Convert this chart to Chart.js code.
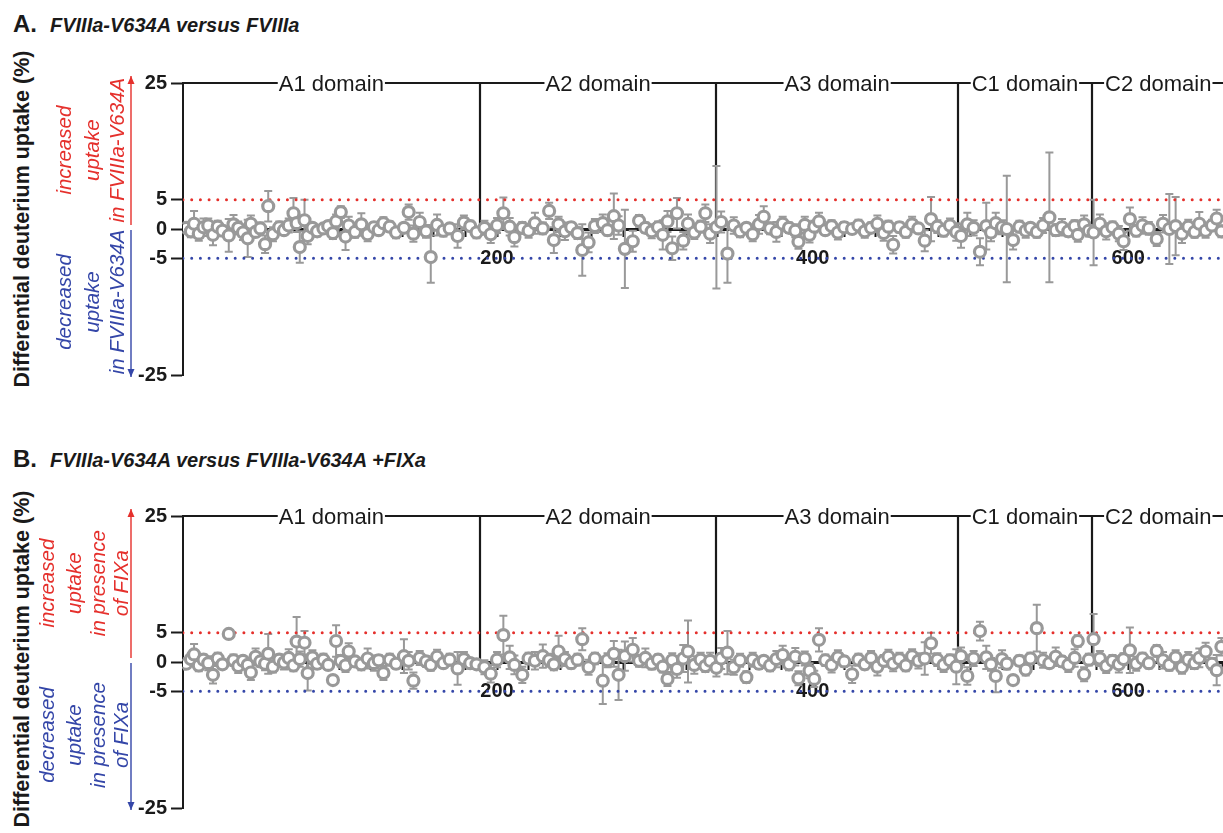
<!DOCTYPE html>
<html>
<head>
<meta charset="utf-8">
<script src="https://cdn.jsdelivr.net/npm/chart.js@4.4.1/dist/chart.umd.min.js"></script>
<style>
  body { margin: 0; background: #fff; width: 1223px; height: 833px; overflow: hidden; position: relative;
         font-family: "Liberation Sans", Arial, sans-serif; color: #1a1a1a; }
  .ttl { position: absolute; left: 13px; line-height: 28px; white-space: nowrap; font-weight: bold; }
  .ttl b { font-size: 24px; }
  .ttl i { font-size: 20px; margin-left: 13px; }
  .ytitle { position: absolute; left: 22px; font-weight: bold; font-size: 21.5px; white-space: nowrap;
            transform: translate(-50%, -50%) rotate(-90deg); }
  .panel { position: absolute; left: 0; }
</style>
</head>
<body>
<div class="ttl" style="top:10px"><b>A.</b><i>FVIIIa-V634A versus FVIIIa</i></div>
<div class="ttl" style="top:445px"><b>B.</b><i>FVIIIa-V634A versus FVIIIa-V634A +FIXa</i></div>
<div class="ytitle" style="top:219px">Differential deuterium uptake (%)</div>
<div class="ytitle" style="top:659px">Differential deuterium uptake (%)</div>
<!-- the plot runs off the right edge of the figure, so the canvases are a bit wider than the page -->
<canvas id="chartA" class="panel" style="top:0px" width="1234" height="420"></canvas>
<canvas id="chartB" class="panel" style="top:433px" width="1234" height="400"></canvas>

<script>
// ==================== DATA ====================
// peptide midpoint (residue) shared by both experiments
const residue = [
  3, 6, 8, 11, 14, 17, 20, 23, 26, 30, 33, 36, 39, 42, 44, 47, 50, 53, 55, 58,
  62, 65, 68, 71, 73, 75, 78, 80, 83, 86, 90, 93, 96, 98, 101, 104, 106, 110, 114, 118,
  122, 125, 128, 132, 136, 141, 144, 147, 151, 155, 158, 162, 166, 170, 175, 179, 183, 187, 192, 196,
  200, 204, 208, 211, 216, 220, 224, 229, 233, 236, 239, 243, 247, 251, 254, 258, 262, 267, 270, 274,
  277, 281, 286, 290, 294, 298, 302, 305, 308, 311, 314, 318, 321, 325, 329, 332, 335, 339, 342, 346,
  350, 354, 358, 362, 366, 369, 373, 377, 381, 385, 389, 391, 395, 398, 401, 404, 408, 412, 416, 420,
  425, 429, 433, 437, 441, 445, 448, 451, 455, 459, 463, 467, 471, 475, 479, 483, 487, 491, 494, 498,
  502, 506, 510, 513, 516, 520, 523, 527, 531, 535, 538, 542, 546, 550, 554, 558, 562, 566, 568, 572,
  575, 578, 582, 586, 590, 594, 597, 601, 605, 609, 613, 618, 622, 626, 630, 634, 638, 642, 645, 649,
  653, 656, 659
];

// A. FVIIIa-V634A versus FVIIIa
const uptakeA = [
  0.2, -0.4, 0.9, -0.8, 0.3, 0.6, -1.0, 0.4, -0.3, -1.1, 0.8, 0.2, -0.6, -1.6, 0.9, -0.5, 0.1, -2.6, 3.9, -0.9,
  0.3, -0.2, 0.6, 2.7, 1.0, -3.1, 1.5, -1.2, 0.2, -0.4, 0.1, 0.5, -0.7, 1.3, 2.9, -1.3, 0.6, -0.5, 0.8, -0.9,
  0.3, -0.2, 1.0, 0.4, -0.6, 0.2, 2.9, -0.8, 1.2, -0.4, -4.8, 0.7, -0.3, 0.1, -1.2, 1.1, 0.5, -0.6, 0.2, -0.9,
  0.6, 2.7, 0.4, -1.4, 0.2, -0.3, 1.0, 0.1, 3.1, -1.9, 0.8, -0.4, 0.3, -0.7, -3.6, -2.3, 0.5, 1.0, -0.2, 2.2,
  0.6, -3.4, -2.1, 1.4, 0.2, -0.4, 0.3, -1.0, 1.3, -3.3, 2.7, -2.0, 0.9, -0.6, 0.4, 2.7, -0.8, 0.3, 1.2, -4.2,
  0.6, -0.4, 0.2, -0.9, 0.8, 2.1, 0.1, -0.5, 0.9, 0.2, -0.3, -2.2, 0.7, -1.0, 0.4, 1.3, -0.2, 0.5, -0.6, 0.3,
  0.0, 0.6, -0.4, 0.2, 0.9, -0.7, 0.4, -2.7, 0.3, -0.5, 0.8, 0.1, -2.0, 1.7, 0.4, -0.3, 0.6, -0.5, -1.2, 0.8,
  0.2, -3.9, 0.5, -0.6, 1.0, 0.3, 0.0, -1.9, 0.4, -0.3, 0.2, -0.5, 0.6, 2.0, -0.2, 0.3, -0.4, 0.5, -1.0, 0.8,
  -0.3, -0.6, 0.9, -0.4, 0.3, -0.8, -2.1, 1.7, -0.3, 0.6, 0.1, -1.7, 0.9, 0.0, 0.5, -0.8, 0.4, -0.5, 0.9, -0.3,
  0.6, 1.8, -0.4
];
const errA = [
  0.8, 1.0, 2.2, 1.2, 1.5, 1.2, 1.8, 1.0, 0.9, 2.8, 1.6, 1.1, 1.3, 3.2, 1.4, 0.8, 1.0, 1.5, 2.6, 1.2,
  1.0, 0.7, 1.2, 2.6, 1.5, 2.7, 3.5, 1.4, 0.8, 0.9, 0.6, 0.8, 1.0, 1.2, 1.0, 2.3, 1.5, 1.0, 1.9, 1.2,
  0.8, 0.7, 1.0, 0.9, 1.0, 0.8, 1.3, 1.4, 1.6, 1.1, 4.4, 1.8, 1.0, 0.8, 2.0, 1.2, 0.9, 1.0, 1.2, 1.5,
  1.3, 2.7, 1.5, 1.6, 1.0, 1.2, 1.8, 1.0, 1.4, 2.2, 1.3, 1.5, 0.8, 1.0, 4.4, 1.7, 1.2, 1.5, 0.9, 3.9,
  1.6, 6.7, 1.8, 1.0, 0.9, 1.2, 1.0, 2.5, 1.8, 2.0, 2.6, 1.5, 1.6, 1.1, 1.0, 1.5, 1.6, 10.5, 1.8, 5.0,
  1.4, 1.0, 0.8, 1.2, 1.6, 1.8, 1.0, 1.7, 1.2, 0.9, 1.1, 1.2, 1.4, 1.3, 1.0, 1.5, 0.8, 1.0, 1.2, 0.9,
  0.8, 1.0, 1.1, 0.9, 1.4, 1.3, 1.0, 1.5, 0.9, 1.0, 1.3, 0.8, 1.8, 3.8, 1.1, 1.0, 1.2, 1.5, 2.0, 2.0,
  1.3, 2.3, 4.0, 1.5, 1.8, 1.2, 9.1, 1.6, 1.0, 1.2, 0.8, 1.0, 1.3, 11.1, 1.0, 1.4, 0.9, 1.0, 1.2, 1.5,
  1.0, 5.6, 1.6, 1.4, 1.0, 1.3, 1.5, 2.0, 1.0, 1.4, 1.1, 1.2, 1.5, 6.0, 5.0, 1.6, 1.2, 1.0, 2.0, 1.2,
  1.0, 1.5, 1.0
];

// B. FVIIIa-V634A versus FVIIIa-V634A +FIXa
const uptakeB = [
  -0.3, 0.5, 1.3, -0.6, 0.4, -0.2, -2.2, 0.6, -0.4, 4.8, 0.3, -0.7, 0.2, -0.5, -1.8, 0.9, 0.1, -0.3, 1.4, -0.8,
  0.4, -0.1, 0.7, -0.6, 3.5, 0.5, 3.3, -1.9, 0.8, -0.3, 0.4, -0.5, -3.1, 3.6, 0.2, -0.6, 1.8, 0.1, -0.4, 0.6,
  -0.2, 0.3, -1.9, 0.4, -0.3, 1.0, 0.2, -3.2, 0.7, 0.1, -0.5, 0.9, -0.2, 0.4, -1.1, 0.5, -0.2, -0.4, -0.9, -2.0,
  0.4, 4.6, 0.8, -0.5, -2.2, 0.6, 0.2, 1.0, 0.3, -0.4, 1.8, 0.5, -0.2, 0.4, 3.9, -0.9, 0.6, -3.2, 0.3, 1.4,
  -2.2, 1.0, 2.1, 0.2, 0.7, -0.3, 0.4, -0.8, -2.9, 0.3, -1.2, 0.6, 1.8, -0.5, 0.4, -0.7, 0.2, -1.0, 0.6, 1.6,
  -0.9, 0.3, -2.6, 0.4, -0.3, 0.2, -0.6, 0.5, 1.2, -0.4, 0.9, -2.8, 0.6, -1.5, -2.9, 3.8, 0.3, -0.5, 0.8, 0.1,
  -2.1, 0.4, -0.4, 0.7, -0.8, 0.2, 0.9, -0.3, 0.5, -0.6, 1.0, 0.2, 0.6, 3.2, 0.4, -0.5, 0.3, -0.8, 1.0, -2.4,
  0.6, 5.3, 0.8, -0.4, -2.4, 0.5, -0.3, -3.1, 0.2, -1.3, 0.6, 5.8, 0.3, -0.2, 0.9, 0.1, -0.5, 0.7, 3.6, -2.1,
  0.4, 3.9, 0.6, -0.7, 0.2, -0.4, 0.5, 2.0, -0.3, 0.6, -0.2, 1.9, 0.3, -0.5, 0.8, -0.9, 0.4, -0.2, 0.7, 1.8,
  -0.3, -1.4, 2.6
];
const errB = [
  0.7, 1.0, 1.8, 1.0, 0.9, 1.2, 1.5, 1.0, 0.8, 0.0, 1.0, 1.2, 0.8, 1.0, 1.3, 1.4, 0.9, 1.1, 3.4, 1.0,
  0.9, 1.2, 1.5, 1.0, 4.2, 1.3, 2.0, 3.0, 1.2, 0.9, 1.0, 0.8, 0.0, 2.7, 1.0, 1.1, 1.4, 0.8, 1.0, 1.7,
  1.3, 0.9, 1.2, 1.0, 0.8, 2.9, 1.5, 1.4, 1.2, 0.9, 1.0, 1.2, 0.8, 1.0, 2.8, 1.2, 0.9, 0.8, 1.2, 1.5,
  1.3, 3.3, 2.0, 1.6, 1.4, 1.0, 1.5, 2.0, 1.1, 1.0, 2.7, 1.2, 0.9, 1.0, 1.9, 1.3, 1.0, 4.0, 1.2, 2.2,
  4.3, 2.5, 2.0, 1.0, 1.6, 1.0, 0.9, 1.0, 1.2, 1.2, 1.5, 2.3, 5.3, 1.5, 1.2, 1.0, 1.4, 1.5, 1.8, 3.7,
  1.3, 1.1, 1.0, 1.2, 0.9, 0.8, 1.0, 1.4, 1.6, 1.0, 1.5, 1.2, 1.2, 1.3, 1.4, 2.0, 1.0, 1.3, 1.2, 0.9,
  1.5, 1.0, 0.9, 1.2, 1.5, 1.0, 1.2, 1.3, 1.1, 1.0, 1.2, 1.3, 2.8, 1.8, 1.1, 1.2, 1.0, 3.0, 1.5, 1.5,
  1.3, 1.6, 2.0, 1.1, 2.8, 1.5, 1.0, 0.0, 0.9, 1.0, 1.0, 4.0, 1.3, 0.8, 1.6, 0.9, 1.2, 1.5, 1.0, 1.2,
  1.0, 4.3, 1.3, 1.2, 1.0, 1.4, 1.0, 3.9, 1.2, 1.0, 0.9, 1.0, 1.4, 1.0, 1.2, 1.1, 1.3, 1.0, 1.6, 1.5,
  1.0, 2.6, 1.5
];

// axes / decorations
const yTicks = [25, 5, 0, -5, -25];
const xTickLabels = [200, 400, 600];
const xRange = [1, 661];
const threshold = 5;
const domainNames = ["A1 domain", "A2 domain", "A3 domain", "C1 domain", "C2 domain"];
const domainEdges = [1, 189, 339, 492, 577, 661];

const notesA = {
  up: ["increased", "uptake", "in FVIIIa-V634A"],
  down: ["decreased", "uptake", "in FVIIIa-V634A"],
  cols: [65, 93, 118]
};
const notesB = {
  up: ["increased", "uptake", "in presence", "of FIXa"],
  down: ["decreased", "uptake", "in presence", "of FIXa"],
  cols: [48, 75, 99, 122]
};

const FONT = '"Liberation Sans", Arial, sans-serif';
const INK = "#1a1a1a";
const GREY = "#999999";
const RED = "#e5302c";
const BLUE = "#3446a8";

// ==================== PLUGIN: error bars, domains, arrows ====================
const decorPlugin = {
  id: "decor",
  beforeDatasetsDraw(chart, args, opts) {
    const { ctx, chartArea, scales: { x, y } } = chart;
    const y25 = y.getPixelForValue(25);
    const y0 = y.getPixelForValue(0);

    // domain frame on top
    ctx.save();
    ctx.strokeStyle = INK;
    ctx.fillStyle = INK;
    ctx.lineWidth = 2;
    ctx.font = "22px " + FONT;
    ctx.textAlign = "center";
    ctx.textBaseline = "middle";
    let from = chartArea.left;
    domainNames.forEach((name, i) => {
      const cx = x.getPixelForValue((domainEdges[i] + domainEdges[i + 1]) / 2);
      const w = ctx.measureText(name).width;
      ctx.beginPath();
      ctx.moveTo(from, y25);
      ctx.lineTo(cx - w / 2 - 1, y25);
      ctx.stroke();
      ctx.fillText(name, cx, y25 + 2);
      from = cx + w / 2 + 1;
    });
    ctx.beginPath();
    ctx.moveTo(from, y25);
    ctx.lineTo(chart.width, y25);
    ctx.stroke();
    ctx.lineWidth = 2.2;
    domainEdges.slice(1, -1).forEach(v => {
      const px = Math.round(x.getPixelForValue(v));
      ctx.beginPath();
      ctx.moveTo(px, y25);
      ctx.lineTo(px, y0);
      ctx.stroke();
    });
    ctx.restore();

    // error bars (behind the circles)
    const pts = chart.data.datasets[0].data;
    ctx.save();
    ctx.strokeStyle = GREY;
    ctx.lineWidth = 2;
    pts.forEach((p, i) => {
      const e = opts.errors[i];
      if (!e) return;
      const px = x.getPixelForValue(p.x);
      const top = y.getPixelForValue(p.y + e);
      const bot = y.getPixelForValue(p.y - e);
      ctx.beginPath();
      ctx.moveTo(px, top); ctx.lineTo(px, bot);
      ctx.moveTo(px - 4, top); ctx.lineTo(px + 4, top);
      ctx.moveTo(px - 4, bot); ctx.lineTo(px + 4, bot);
      ctx.stroke();
    });
    ctx.restore();
  },
  afterDraw(chart, args, opts) {
    const { ctx, chartArea, scales: { y } } = chart;
    const notes = opts.notes;
    const ax = chartArea.left - 52;
    const y0 = y.getPixelForValue(0);
    const yTop = y.getPixelForValue(25) - 7;
    const yBot = y.getPixelForValue(-25) + 2;

    const arrow = (color, a, b) => {
      ctx.strokeStyle = color;
      ctx.fillStyle = color;
      ctx.lineWidth = 1.4;
      ctx.beginPath();
      ctx.moveTo(ax, a); ctx.lineTo(ax, b);
      ctx.stroke();
      const dir = b < a ? -1 : 1;
      ctx.beginPath();
      ctx.moveTo(ax, b);
      ctx.lineTo(ax - 3.5, b - dir * 8);
      ctx.lineTo(ax + 3.5, b - dir * 8);
      ctx.closePath();
      ctx.fill();
    };
    const column = (color, lines, cy) => {
      ctx.fillStyle = color;
      lines.forEach((t, i) => {
        ctx.save();
        ctx.translate(notes.cols[i], cy);
        ctx.rotate(-Math.PI / 2);
        ctx.fillText(t, 0, 0);
        ctx.restore();
      });
    };

    ctx.save();
    arrow(RED, y0 - 4, yTop);
    arrow(BLUE, y0 + 1, yBot);
    ctx.font = "italic 20.5px " + FONT;
    ctx.textAlign = "center";
    ctx.textBaseline = "middle";
    column(RED, notes.up, y.getPixelForValue(13.5));
    column(BLUE, notes.down, y.getPixelForValue(-12.5));
    ctx.restore();
  }
};

// ==================== VẼ PANEL ====================
function vePanel(canvasId, values, errors, notes, padBottom) {
  const points = residue.map((r, i) => ({ x: r, y: values[i] }));
  const tickFont = { family: FONT, size: 20, weight: "bold" };

  return new Chart(document.getElementById(canvasId), {
    type: "scatter",
    data: {
      datasets: [
        {
          label: "uptake",
          data: points,
          order: 1,
          pointRadius: 5.5,
          pointHoverRadius: 5.5,
          borderWidth: 3.2,
          borderColor: GREY,
          backgroundColor: "#ffffff"
        },
        {
          label: "+5",
          data: [{ x: xRange[0], y: threshold }, { x: xRange[1], y: threshold }],
          order: 2,
          showLine: true,
          pointRadius: 0,
          borderColor: RED,
          borderWidth: 3,
          borderDash: [0, 8.7],
          borderCapStyle: "round"
        },
        {
          label: "-5",
          data: [{ x: xRange[0], y: -threshold }, { x: xRange[1], y: -threshold }],
          order: 2,
          showLine: true,
          pointRadius: 0,
          borderColor: BLUE,
          borderWidth: 3,
          borderDash: [0, 8.7],
          borderCapStyle: "round"
        }
      ]
    },
    options: {
      responsive: false,
      animation: false,
      devicePixelRatio: 1,
      layout: { padding: { top: 83, bottom: padBottom, left: 0, right: 0 } },
      plugins: {
        legend: { display: false },
        tooltip: { enabled: false },
        decor: { errors: errors, notes: notes }
      },
      scales: {
        x: {
          type: "linear",
          min: xRange[0],
          max: xRange[1],
          position: { y: 0 },
          afterBuildTicks: s => {
            const t = [];
            for (let v = 20; v <= 660; v += 20) t.push({ value: v });
            s.ticks = t;
          },
          grid: { drawOnChartArea: false, drawTicks: true, tickLength: 6, tickWidth: 2, tickColor: INK },
          border: { display: true, color: INK, width: 3 },
          ticks: {
            autoSkip: false,
            maxRotation: 0,
            padding: 11,
            color: INK,
            font: tickFont,
            callback: v => (xTickLabels.includes(v) ? String(v) : "")
          }
        },
        y: {
          min: -25,
          max: 25,
          afterBuildTicks: s => { s.ticks = yTicks.map(v => ({ value: v })); },
          afterFit: s => { s.width = 183; },
          grid: { drawOnChartArea: false, drawTicks: true, tickLength: 12, tickWidth: 2, tickColor: INK },
          border: { display: true, color: INK, width: 2 },
          ticks: { padding: 4, color: INK, font: tickFont }
        }
      }
    },
    plugins: [decorPlugin]
  });
}

document.addEventListener("DOMContentLoaded", function () {
  vePanel("chartA", uptakeA, errA, notesA, 45);
  vePanel("chartB", uptakeB, errB, notesB, 25);
});
</script>
</body>
</html>
